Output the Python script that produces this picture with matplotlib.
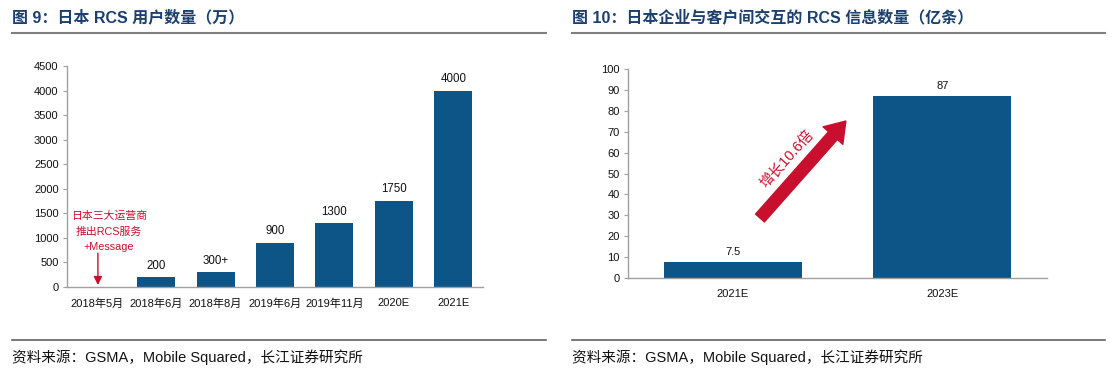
import matplotlib.pyplot as plt
from matplotlib.lines import Line2D

plt.rcParams['font.family'] = ['Liberation Sans', 'Noto Sans CJK SC', 'DejaVu Sans']

# 图9 数据
months = ['2018年5月', '2018年6月', '2018年8月', '2019年6月', '2019年11月', '2020E', '2021E']
users = [0, 200, 300, 900, 1300, 1750, 4000]
user_labels = ['', '200', '300+', '900', '1300', '1750', '4000']

# 图10 数据
years = ['2021E', '2023E']
messages = [7.5, 87]
message_labels = ['7.5', '87']

bar_color = '#0e5587'
red = '#c8102e'
title_color = '#1b3f6e'
spine_color = '#a0a0a0'

fig = plt.figure(figsize=(11.15, 3.69), dpi=100)

# 左图
ax1 = fig.add_axes([0.0601, 0.2222, 0.3731, 0.599])
ax1.bar(range(len(months)), users, width=0.64, color=bar_color)
for i, (v, t) in enumerate(zip(users, user_labels)):
    if t:
        ax1.annotate(t, (i, v), xytext=(0, 4), textcoords='offset points',
                     ha='center', va='bottom', fontsize=8.3, color='#111111')
ax1.set_xticks(range(len(months)))
ax1.set_xticklabels(months)
ax1.set_xlim(-0.5, len(months) - 0.5)
ax1.set_ylim(0, 4500)
ax1.set_yticks(range(0, 4501, 500))
ax1.text(0.21, 1446, '日本三大运营商', ha='center', va='center', fontsize=7.8, color=red)
ax1.text(0.21, 1120, '推出RCS服务', ha='center', va='center', fontsize=7.8, color=red)
ax1.text(0.21, 814, '+Message', ha='center', va='center', fontsize=7.8, color=red)
ax1.annotate('', xy=(0.02, 40), xytext=(0.02, 690),
             arrowprops=dict(arrowstyle='-|>,head_length=0.5,head_width=0.25', color=red, lw=1,
                             shrinkA=0, shrinkB=0))

# 右图
ax2 = fig.add_axes([0.5632, 0.2466, 0.3758, 0.5664])
ax2.bar(range(len(years)), messages, width=0.66, color=bar_color)
for i, (v, t) in enumerate(zip(messages, message_labels)):
    ax2.annotate(t, (i, v), xytext=(0, 4), textcoords='offset points',
                 ha='center', va='bottom', fontsize=8, color='#111111')
ax2.set_xticks(range(len(years)))
ax2.set_xticklabels(years)
ax2.set_xlim(-0.5, len(years) - 0.5)
ax2.set_ylim(0, 100)
ax2.set_yticks(range(0, 101, 10))
ax2.annotate('', xy=(0.54, 75.1), xytext=(0.13, 28.7),
             arrowprops=dict(arrowstyle='simple,head_length=1.4,head_width=1.9,tail_width=0.85',
                             mutation_scale=10, color=red, shrinkA=0, shrinkB=0))
ax2.text(0.262, 57, '增长10.6倍', rotation=48, ha='center', va='center',
         fontsize=10.5, color=red, rotation_mode='anchor')

for ax in (ax1, ax2):
    for s in ('top', 'right'):
        ax.spines[s].set_visible(False)
    for s in ('left', 'bottom'):
        ax.spines[s].set_color(spine_color)
        ax.spines[s].set_linewidth(1)
    ax.tick_params(axis='y', length=3, color=spine_color, labelsize=8, labelcolor='#111111', pad=3)
    ax.tick_params(axis='x', length=0, labelsize=8, labelcolor='#111111', pad=8)

# 标题、分隔线和来源
fig.text(0.0108, 0.954, '图 9：日本 RCS 用户数量（万）', fontsize=11.5, color=title_color,
         fontweight='bold', va='center', ha='left')
fig.text(0.513, 0.954, '图 10：日本企业与客户间交互的 RCS 信息数量（亿条）', fontsize=11.5,
         color=title_color, fontweight='bold', va='center', ha='left')
for x0, x1 in ((0.0108, 0.4897), (0.513, 0.991)):
    fig.add_artist(Line2D([x0, x1], [0.9106, 0.9106], color='#808080', lw=1.5))
    fig.add_artist(Line2D([x0, x1], [0.0786, 0.0786], color='#606060', lw=1.2))
source = '资料来源：GSMA，Mobile Squared，长江证券研究所'
fig.text(0.0108, 0.0325, source, fontsize=10.5, color='#111111', va='center', ha='left')
fig.text(0.513, 0.0325, source, fontsize=10.5, color='#111111', va='center', ha='left')

fig.savefig('out.png', dpi=100)
